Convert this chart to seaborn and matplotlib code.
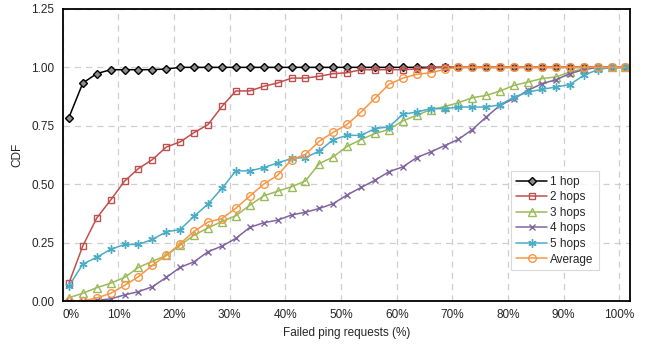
import seaborn as sns
import pandas as pd
import numpy as np
import matplotlib.pyplot as plt

# porcentaje de pings fallidos (eje x), 41 puntos
x_pct = [1.1, 3.6, 6.1, 8.6, 11.1, 13.6, 16.1, 18.6, 21.1, 23.6, 26.1, 28.6, 31.1, 33.6,
         36.1, 38.6, 41.1, 43.6, 46.1, 48.6, 51.1, 53.6, 56.1, 58.6, 61.1, 63.6, 66.1, 68.6,
         71.1, 73.6, 76.1, 78.6, 81.1, 83.6, 86.1, 88.6, 91.1, 93.6, 96.1, 98.6, 101.0]

hop1 = [0.785, 0.933, 0.973, 0.99, 0.99, 0.99, 0.99, 0.993, 1.0, 1.0, 1.0, 1.0, 1.0, 1.0,
        1.0, 1.0, 1.0, 1.0, 1.0, 1.0, 1.0, 1.0, 1.0, 1.0, 1.0, 1.0, 1.0, 1.0,
        1.0, 1.0, 1.0, 1.0, 1.0, 1.0, 1.0, 1.0, 1.0, 1.0, 1.0, 1.0, 1.0]
hop2 = [0.076, 0.236, 0.355, 0.432, 0.513, 0.567, 0.605, 0.659, 0.681, 0.721, 0.755, 0.833, 0.899, 0.899,
        0.919, 0.933, 0.954, 0.954, 0.962, 0.973, 0.977, 0.99, 0.99, 0.99, 0.99, 0.993, 0.999, 1.0,
        1.0, 1.0, 1.0, 1.0, 1.0, 1.0, 1.0, 1.0, 1.0, 1.0, 1.0, 1.0, 1.0]
hop3 = [0.014, 0.033, 0.057, 0.076, 0.101, 0.144, 0.17, 0.195, 0.239, 0.282, 0.313, 0.34, 0.365, 0.41,
        0.45, 0.47, 0.489, 0.514, 0.588, 0.617, 0.662, 0.691, 0.717, 0.734, 0.771, 0.795, 0.819, 0.832,
        0.849, 0.87, 0.88, 0.899, 0.923, 0.937, 0.952, 0.959, 0.98, 0.994, 1.0, 1.0, 1.0]
hop4 = [0.0, 0.0, 0.003, 0.009, 0.026, 0.04, 0.061, 0.101, 0.144, 0.168, 0.211, 0.235, 0.268, 0.315,
        0.335, 0.346, 0.368, 0.38, 0.396, 0.417, 0.454, 0.486, 0.517, 0.553, 0.574, 0.614, 0.638, 0.665,
        0.692, 0.734, 0.788, 0.838, 0.866, 0.902, 0.93, 0.947, 0.973, 0.99, 1.0, 1.0, 1.0]
hop5 = [0.064, 0.158, 0.187, 0.221, 0.242, 0.242, 0.264, 0.296, 0.306, 0.363, 0.415, 0.482, 0.557, 0.557,
        0.571, 0.591, 0.61, 0.614, 0.642, 0.691, 0.709, 0.709, 0.738, 0.745, 0.799, 0.809, 0.823, 0.823,
        0.83, 0.83, 0.83, 0.84, 0.873, 0.894, 0.906, 0.916, 0.926, 0.966, 0.99, 1.0, 1.0]
average = [0.001, 0.0, 0.013, 0.033, 0.067, 0.104, 0.153, 0.195, 0.246, 0.298, 0.338, 0.353, 0.397, 0.449,
           0.5, 0.538, 0.605, 0.628, 0.684, 0.722, 0.756, 0.809, 0.868, 0.927, 0.954, 0.97, 0.977, 0.991,
           1.0, 1.0, 1.0, 1.0, 1.0, 1.0, 1.0, 1.0, 1.0, 1.0, 1.0, 1.0, 1.0]

x_ticks = [0, 10, 20, 30, 40, 50, 60, 70, 80, 90, 100]
y_ticks = [0.0, 0.25, 0.5, 0.75, 1.0, 1.25]

# nombre, datos, color, marcador, relleno, tamaño
series = [
    ("1 hop", hop1, "#000000", "D", "#8c8c8c", 4),
    ("2 hops", hop2, "#C0504D", "s", "none", 5),
    ("3 hops", hop3, "#9BBB59", "^", "none", 5.5),
    ("4 hops", hop4, "#8064A2", "x", "none", 5),
    ("5 hops", hop5, "#4BACC6", (6, 2, 0), "none", 6),
    ("Average", average, "#F79646", "o", "none", 5.5),
]

sns.set_style("white")
plt.rcParams['font.family'] = ['Liberation Sans', 'DejaVu Sans']

fig = plt.figure(figsize=(6.54, 3.44), dpi=100)
ax = fig.add_axes([0.096, 0.125, 0.868, 0.849])

for nombre, datos, color, marcador, relleno, ms in series:
    df = pd.DataFrame({"x": x_pct, "y": datos})
    sns.lineplot(data=df, x="x", y="y", ax=ax, color=color, marker=marcador,
                 markerfacecolor=relleno, markeredgecolor=color, markersize=ms,
                 markeredgewidth=1.0, linewidth=1.1, label=nombre, errorbar=None)

ax.set_xlim(0, 102)
ax.set_ylim(0, 1.25)
ax.set_xticks(x_ticks)
ax.set_xticklabels([f"{t}%" for t in x_ticks], fontsize=8.5)
ax.get_xticklabels()[0].set_horizontalalignment("left")
ax.set_yticks(y_ticks)
ax.set_yticklabels([f"{t:.2f}" for t in y_ticks], fontsize=8.5)
ax.set_xlabel("Failed ping requests (%)", fontsize=8.5, labelpad=4)
ax.set_ylabel("CDF", fontsize=8.5, labelpad=6)

ax.grid(True, color="#cfcfcf", linestyle=(0, (5, 4)), linewidth=0.9)
for s in ax.spines.values():
    s.set_color("black")
    s.set_linewidth(1.3)
ax.tick_params(axis="both", direction="out", length=4, width=1.0, color="black", pad=2)

leg = ax.legend(loc="lower left", bbox_to_anchor=(0.78, 0.085), fontsize=8.5,
                frameon=True, fancybox=False, edgecolor="#d0d0d0", handlelength=2.6,
                borderpad=0.4, labelspacing=0.3, handletextpad=0.3)
leg.get_frame().set_linewidth(0.8)

plt.savefig("out.png", dpi=100)
